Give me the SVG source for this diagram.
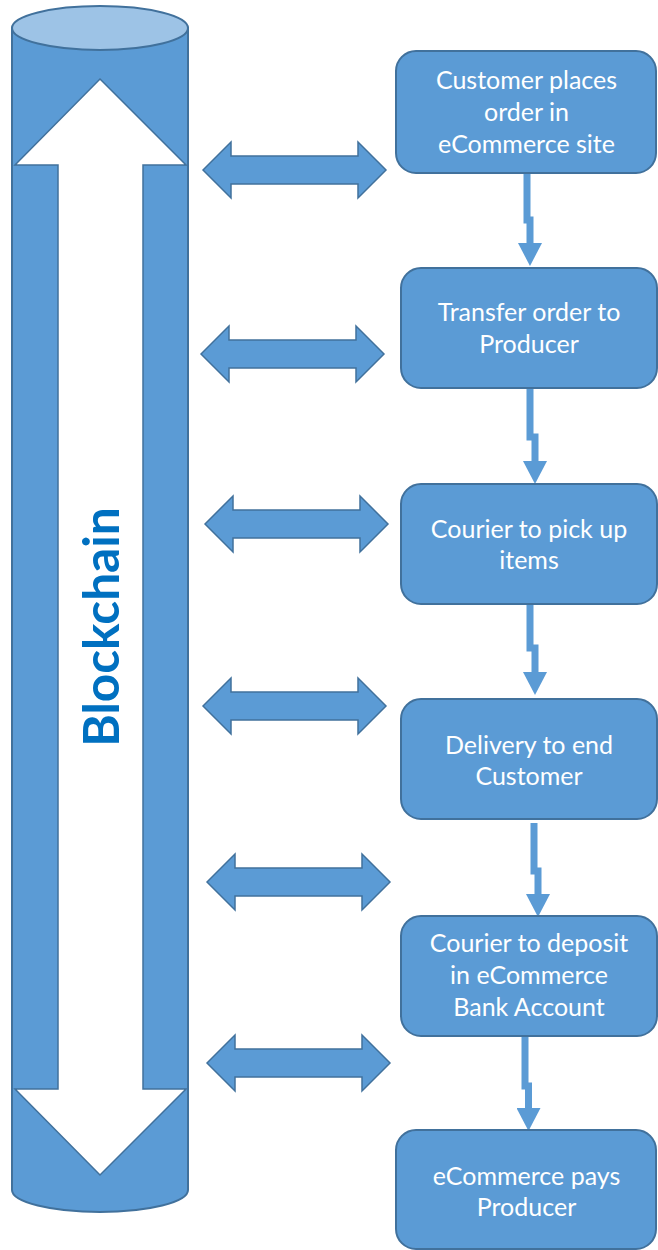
<svg xmlns="http://www.w3.org/2000/svg" xmlns:xlink="http://www.w3.org/1999/xlink" width="658" height="1250" viewBox="0 0 658 1250">
<style>
.box{fill:#5B9BD5;stroke:#41719C;stroke-width:2}
.lbl{font-family:Lato,"Open Sans","Liberation Sans",sans-serif;font-size:25px;fill:#FFFFFF;text-anchor:middle}
.dbl{fill:#5B9BD5;stroke:#41719C;stroke-width:1.5;stroke-linejoin:miter}
.flow{fill:none;stroke:#5B9BD5;stroke-width:7;stroke-linejoin:miter}
.cyl{fill:#5B9BD5;stroke:#41719C;stroke-width:2}
</style>
<defs>
<marker id="head" markerUnits="userSpaceOnUse" viewBox="0 0 23 24" refX="2" refY="12" markerWidth="23" markerHeight="24" orient="auto">
<path d="M0,0 L23,12 L0,24 Z" fill="#5B9BD5"/>
</marker>
<path id="dblarrow" d="M0,0 L28,-28 L28,-14 L155,-14 L155,-28 L183,0 L155,28 L155,14 L28,14 L28,28 Z"/>
</defs>
<g id="blockchain">
<path class="cyl" d="M12,28 V1190 A88,22 0 0 0 188,1190 V28 Z"/>
<ellipse cx="100" cy="28" rx="88" ry="22" fill="#9DC3E6" stroke="#41719C" stroke-width="2"/>
<polygon points="100,79 186,165 143,165 143,1089 186,1089 100,1175 15,1089 58,1089 58,165 15,165" fill="#FFFFFF" stroke="#41719C" stroke-width="1.5"/>
<text transform="translate(119,627) rotate(-90)" font-family="Lato,'Open Sans','Liberation Sans',sans-serif" font-weight="bold" font-size="49.5" fill="#0070C0" text-anchor="middle">Blockchain</text>
</g>
<g id="connectors">
<use xlink:href="#dblarrow" href="#dblarrow" class="dbl" x="203" y="170"/>
<use xlink:href="#dblarrow" href="#dblarrow" class="dbl" x="201" y="354"/>
<use xlink:href="#dblarrow" href="#dblarrow" class="dbl" x="205" y="524"/>
<use xlink:href="#dblarrow" href="#dblarrow" class="dbl" x="203" y="706"/>
<use xlink:href="#dblarrow" href="#dblarrow" class="dbl" x="207" y="882"/>
<use xlink:href="#dblarrow" href="#dblarrow" class="dbl" x="207" y="1063"/>
<path class="flow" marker-end="url(#head)" d="M527,174 V220 H530 V245"/>
<path class="flow" marker-end="url(#head)" d="M530,389 V437 H535 V463"/>
<path class="flow" marker-end="url(#head)" d="M530,605 V648 H535 V674"/>
<path class="flow" marker-end="url(#head)" d="M534,823 V871 H538 V896"/>
<path class="flow" marker-end="url(#head)" d="M525,1037 V1086 H528.5 V1110"/>
</g>
<g id="node1">
<rect class="box" x="396" y="51" width="260" height="122" rx="20" ry="20"/>
<text class="lbl" x="526.5" y="89">Customer places</text>
<text class="lbl" x="526.5" y="121">order in</text>
<text class="lbl" x="526.5" y="153">eCommerce site</text>
</g>
<g id="node2">
<rect class="box" x="401" y="268" width="256" height="120" rx="20" ry="20"/>
<text class="lbl" x="529" y="321">Transfer order to</text>
<text class="lbl" x="529" y="353">Producer</text>
</g>
<g id="node3">
<rect class="box" x="401" y="484" width="256" height="120" rx="20" ry="20"/>
<text class="lbl" x="529" y="538">Courier to pick up</text>
<text class="lbl" x="529" y="569">items</text>
</g>
<g id="node4">
<rect class="box" x="401" y="699" width="256" height="120" rx="20" ry="20"/>
<text class="lbl" x="529" y="754">Delivery to end</text>
<text class="lbl" x="529" y="785">Customer</text>
</g>
<g id="node5">
<rect class="box" x="401" y="916" width="256" height="120" rx="20" ry="20"/>
<text class="lbl" x="529" y="952">Courier to deposit</text>
<text class="lbl" x="529" y="984">in eCommerce</text>
<text class="lbl" x="529" y="1016">Bank Account</text>
</g>
<g id="node6">
<rect class="box" x="396" y="1130" width="260" height="119" rx="20" ry="20"/>
<text class="lbl" x="526.5" y="1185">eCommerce pays</text>
<text class="lbl" x="526.5" y="1216">Producer</text>
</g>
</svg>
